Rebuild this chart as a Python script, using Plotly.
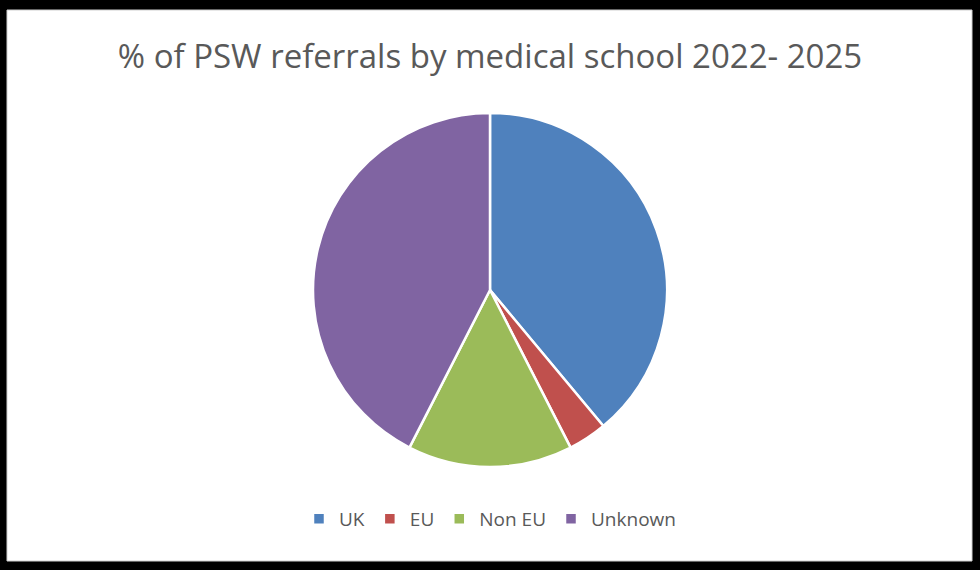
import plotly.graph_objects as go

# Referrals by where the doctor attended medical school
categories = ["UK", "EU", "Non EU", "Unknown"]
referrals = [44, 4, 17, 48]
colors = ["#4F81BD", "#C0504D", "#9BBB59", "#8064A2"]

W, H = 980, 570


def px(x):
    return x / W


def py(y):
    return 1 - y / H


fig = go.Figure(
    go.Pie(
        labels=categories,
        values=referrals,
        sort=False,
        direction="clockwise",
        rotation=0,
        textinfo="none",
        marker=dict(colors=colors, line=dict(color="white", width=2.5)),
        domain=dict(x=[px(313), px(667)], y=[py(467), py(113)]),
    )
)

fig.update_layout(
    width=W,
    height=H,
    margin=dict(l=0, r=0, t=0, b=0),
    paper_bgcolor="black",
    font=dict(family="Open Sans, sans-serif", color="#595959"),
    title=dict(
        text="% of PSW referrals by medical school 2022- 2025",
        x=0.5,
        xanchor="center",
        y=py(56),
        yanchor="middle",
        font=dict(size=33, color="#595959"),
    ),
    showlegend=True,
    legend=dict(
        orientation="h",
        x=0.5,
        xanchor="center",
        y=py(519),
        yanchor="middle",
        font=dict(size=19, color="#595959"),
        itemwidth=30,
        bgcolor="rgba(0,0,0,0)",
    ),
    shapes=[
        # white card inside the black frame
        dict(type="rect", xref="paper", yref="paper",
             x0=px(7), x1=px(972), y0=py(561), y1=py(10),
             fillcolor="white", line=dict(color="#d0d0d0", width=1),
             layer="below"),
    ],
)

fig.write_html("out.html")
